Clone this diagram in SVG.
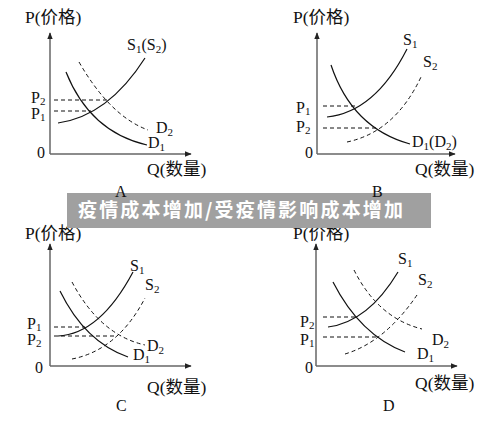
<svg xmlns="http://www.w3.org/2000/svg" width="500" height="422" viewBox="0 0 500 422">
<defs>
<marker id="arr" viewBox="0 0 10 10" refX="9" refY="5" markerWidth="7" markerHeight="7" orient="auto" markerUnits="userSpaceOnUse">
<path d="M0,1 L10,5 L0,9 Z" fill="#222"/>
</marker>
<style>
.ax{stroke:#666;stroke-width:1.5;fill:none}
.c{stroke:#111;stroke-width:1.2;fill:none}
.d{stroke:#111;stroke-width:1;fill:none;stroke-dasharray:4 3}
.t{font-family:"Liberation Serif","Noto Sans CJK SC",serif;font-size:16px;fill:#111}
.h{font-size:17.5px}
.s{font-size:11px}
.ban{font-family:"Noto Sans CJK SC","Noto Sans",sans-serif;font-weight:bold;font-size:19px;fill:#fff}
</style>
</defs>
<rect width="500" height="422" fill="#fff"/>

<!-- Panel A -->
<g id="panelA">
<line class="ax" x1="50" y1="154" x2="50" y2="33" marker-end="url(#arr)"/>
<line class="ax" x1="50" y1="154" x2="191" y2="154" marker-end="url(#arr)"/>
<text class="t h" x="25" y="23">P(价格)</text>
<text class="t h" x="147" y="175">Q(数量)</text>
<text class="t" x="37" y="158">0</text>
<text class="t" x="31" y="103">P<tspan class="s" dy="1.5">2</tspan></text>
<text class="t" x="31" y="119">P<tspan class="s" dy="2">1</tspan></text>
<text class="t" x="127" y="50">S<tspan class="s" dy="3">1</tspan><tspan dy="-3">(S</tspan><tspan class="s" dy="3">2</tspan><tspan dy="-3">)</tspan></text>
<text class="t" x="156" y="133">D<tspan class="s" dy="3">2</tspan></text>
<text class="t" x="148" y="148">D<tspan class="s" dy="3">1</tspan></text>
</g>
<g id="connA">
<line class="d" x1="54" y1="100" x2="107" y2="100"/>
<line class="d" x1="54" y1="111" x2="91" y2="111"/>
<path class="c" d="M58,123 Q108,116 145,58"/>
<path class="c" d="M66,72 Q90,132 147,145"/>
<path class="d" d="M79,62 Q110,116 148,130"/>
</g>

<!-- Panel B -->
<g id="panelB">
<line class="ax" x1="317" y1="154" x2="317" y2="33" marker-end="url(#arr)"/>
<line class="ax" x1="317" y1="154" x2="455" y2="154" marker-end="url(#arr)"/>
<text class="t h" x="293" y="23">P(价格)</text>
<text class="t h" x="415" y="175">Q(数量)</text>
<text class="t" x="305" y="158">0</text>
<text class="t" x="296" y="113">P<tspan class="s" dy="2">1</tspan></text>
<text class="t" x="296" y="132">P<tspan class="s" dy="2">2</tspan></text>
<text class="t" x="403" y="45">S<tspan class="s" dy="3">1</tspan></text>
<text class="t" x="423" y="67">S<tspan class="s" dy="3">2</tspan></text>
<text class="t" x="412" y="147">D<tspan class="s" dy="3">1</tspan><tspan dy="-3">(D</tspan><tspan class="s" dy="3">2</tspan><tspan dy="-3">)</tspan></text>
</g>
<g id="connB">
<line class="d" x1="323" y1="106" x2="356" y2="106"/>
<line class="d" x1="323" y1="128" x2="378" y2="128"/>
<path class="c" d="M327,117 Q375,112 407,49"/>
<path class="d" d="M347,142 Q395,132 421,77"/>
<path class="c" d="M331,65 Q352,128 410,144"/>
</g>

<!-- Panel C -->
<g id="panelC">
<line class="ax" x1="50" y1="366" x2="50" y2="244" marker-end="url(#arr)"/>
<line class="ax" x1="50" y1="366" x2="191" y2="366" marker-end="url(#arr)"/>
<text class="t h" x="25" y="239">P(价格)</text>
<text class="t h" x="147" y="393">Q(数量)</text>
<text class="t" x="35" y="373">0</text>
<text class="t" x="27" y="329">P<tspan class="s" dy="2">1</tspan></text>
<text class="t" x="27" y="345">P<tspan class="s" dy="2">2</tspan></text>
<text class="t" x="130" y="271">S<tspan class="s" dy="3">1</tspan></text>
<text class="t" x="145" y="290">S<tspan class="s" dy="3">2</tspan></text>
<text class="t" x="147" y="351">D<tspan class="s" dy="3">2</tspan></text>
<text class="t" x="133" y="360">D<tspan class="s" dy="3">1</tspan></text>
<text class="t" x="116" y="411">C</text>
</g>
<g id="connC">
<line class="d" x1="54" y1="327" x2="85" y2="327"/>
<line class="d" x1="54" y1="336" x2="115" y2="336"/>
<path class="c" d="M58,336 Q100,334 133,272"/>
<path class="d" d="M72,359 Q118,350 145,298"/>
<path class="c" d="M60,291 Q85,342 128,357"/>
<path class="d" d="M72,282 Q100,335 145,345"/>
</g>

<!-- Panel D -->
<g id="panelD">
<line class="ax" x1="316" y1="366" x2="316" y2="244" marker-end="url(#arr)"/>
<line class="ax" x1="316" y1="366" x2="457" y2="366" marker-end="url(#arr)"/>
<text class="t h" x="293" y="239">P(价格)</text>
<text class="t h" x="415" y="389">Q(数量)</text>
<text class="t" x="305" y="373">0</text>
<text class="t" x="300" y="327">P<tspan class="s" dy="2">2</tspan></text>
<text class="t" x="300" y="345">P<tspan class="s" dy="2">1</tspan></text>
<text class="t" x="398" y="264">S<tspan class="s" dy="3">1</tspan></text>
<text class="t" x="418" y="285">S<tspan class="s" dy="3">2</tspan></text>
<text class="t" x="432" y="345">D<tspan class="s" dy="3">2</tspan></text>
<text class="t" x="417" y="359">D<tspan class="s" dy="3">1</tspan></text>
<text class="t" x="383" y="411">D</text>
</g>
<g id="connD">
<line class="d" x1="323" y1="317" x2="355" y2="317"/>
<line class="d" x1="323" y1="337" x2="376" y2="337"/>
<path class="c" d="M328,327 Q368,322 398,272"/>
<path class="d" d="M345,354 Q385,342 417,295"/>
<path class="c" d="M333,282 Q360,335 405,352"/>
<path class="d" d="M354,270 Q378,318 422,329"/>
</g>

<!-- Banner -->
<g id="banner">
<rect x="67" y="193" width="364" height="35" fill="#a0a0a0"/>
<text class="ban" x="78" y="217" textLength="325" lengthAdjust="spacing">疫情成本增加/受疫情影响成本增加</text>
</g>
<text class="t" x="115" y="197" font-size="15">A</text>
<text class="t" x="372" y="197" font-size="15">B</text>
</svg>
